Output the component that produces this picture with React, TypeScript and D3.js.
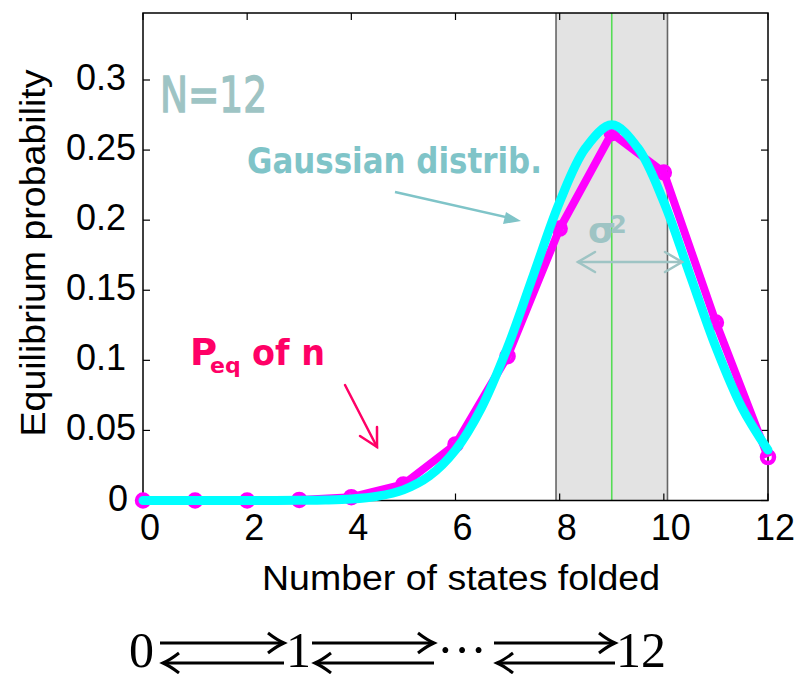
import React from "react";
import * as d3 from "d3";

const nStates = [0, 1, 2, 3, 4, 5, 6, 7, 8, 9, 10, 11, 12];
const peqValues = [0, 0, 0, 0.0004, 0.0024, 0.0115, 0.04, 0.103, 0.194, 0.262, 0.234, 0.127, 0.031];
const gaussX = [0, 0.5, 1, 1.5, 2, 2.5, 3, 3.5, 4, 4.5, 5, 5.5, 6, 6.5, 7, 7.5, 8, 8.5, 9, 9.5, 10, 10.5, 11, 11.5, 12];
const gaussY = [0, 0, 0, 0, 0, 0, 0.0001, 0.0003, 0.001, 0.003, 0.0076, 0.0175, 0.036, 0.0663, 0.1094, 0.1613, 0.213, 0.2516, 0.268, 0.2516, 0.213, 0.1613, 0.1094, 0.0663, 0.036];
const xTicks = [0, 2, 4, 6, 8, 10, 12];
const yTicks = [0, 0.05, 0.1, 0.15, 0.2, 0.25, 0.3];
const yTickLabels = ["0", "0.05", "0.1", "0.15", "0.2", "0.25", "0.3"];
const sigmaBand = [7.93, 10.07];
const meanN = 9;

const AXIS_FONT = "'Liberation Sans', Arial, sans-serif";
const HAND_FONT = "'Comic Sans MS', 'DejaVu Sans', sans-serif";
const SERIF = "'Liberation Serif', 'Times New Roman', serif";

export default function App() {
  const x = d3.scaleLinear().domain([0, 12]).range([143, 768]);
  const y = d3.scaleLinear().domain([0, 0.3]).range([500.5, 80]);
  const top = 13;
  const left = x(0), right = x(12), bottom = y(0);

  const peqLine = d3.line<number>().x((_, i) => x(nStates[i])).y((d) => y(d));
  const gaussLine = d3
    .line<number>()
    .x((_, i) => x(gaussX[i]))
    .y((d) => y(d))
    .curve(d3.curveCatmullRom);

  const tickLen = 7;

  // scheme arrows (reversible reaction)
  const pairArrow = (x1: number, x2: number, key: string) => {
    const yt = 643, yb = 663;
    return (
      <g key={key} stroke="#000" strokeWidth={3} fill="none">
        <line x1={x1} y1={yt} x2={x2 - 1} y2={yt} />
        <path d={`M${x2 - 16},${yt - 10} Q${x2 - 7},${yt - 3} ${x2},${yt} Q${x2 - 7},${yt + 3} ${x2 - 16},${yt + 10}`} />
        <line x1={x1 + 4} y1={yb} x2={x2} y2={yb} />
        <path d={`M${x1 + 19},${yb - 10} Q${x1 + 10},${yb - 3} ${x1 + 3},${yb} Q${x1 + 10},${yb + 3} ${x1 + 19},${yb + 10}`} />
      </g>
    );
  };

  return (
    <svg width={801} height={674} style={{ position: "absolute", left: 0, top: 0, background: "#fff" }}>
      <rect x={0} y={0} width={801} height={674} fill="#fff" />
      {/* sigma band */}
      <rect x={x(sigmaBand[0])} y={top} width={x(sigmaBand[1]) - x(sigmaBand[0])} height={bottom - top} fill="#e3e3e3" />
      {sigmaBand.map((v) => (
        <line key={v} x1={x(v)} x2={x(v)} y1={top} y2={bottom} stroke="#666" strokeWidth={1.6} />
      ))}
      <line x1={x(meanN)} x2={x(meanN)} y1={top} y2={bottom} stroke="#55dd55" strokeWidth={1.6} />

      {/* frame */}
      <rect x={left} y={top} width={right - left} height={bottom - top} fill="none" stroke="#000" strokeWidth={1.5} />
      {xTicks.map((t) => (
        <g key={"xt" + t}>
          <line x1={x(t)} x2={x(t)} y1={bottom} y2={bottom - tickLen} stroke="#000" strokeWidth={1.2} />
          <line x1={x(t)} x2={x(t)} y1={top} y2={top + tickLen} stroke="#000" strokeWidth={1.2} />
          <text x={x(t) + 7} y={540} textAnchor="middle" fontFamily={AXIS_FONT} fontSize={36} fill="#000">
            {t}
          </text>
        </g>
      ))}
      {yTicks.map((t, i) => (
        <g key={"yt" + t}>
          <line x1={left} x2={left + tickLen} y1={y(t)} y2={y(t)} stroke="#000" strokeWidth={1.2} />
          <line x1={right} x2={right - tickLen} y1={y(t)} y2={y(t)} stroke="#000" strokeWidth={1.2} />
          <text
            x={t === 0 ? 128 : 101}
            y={y(t) + 10}
            textAnchor={t === 0 ? "end" : "middle"}
            fontFamily={AXIS_FONT}
            fontSize={36}
            fill="#000"
          >
            {yTickLabels[i]}
          </text>
        </g>
      ))}
      <text x={461} y={590} textAnchor="middle" fontFamily={AXIS_FONT} fontSize={35} fill="#000" textLength={398} lengthAdjust="spacingAndGlyphs">
        Number of states folded
      </text>
      <text
        transform="translate(45,253) rotate(-90)"
        textAnchor="middle"
        fontFamily={AXIS_FONT}
        fontSize={35}
        fill="#000"
        textLength={367}
        lengthAdjust="spacingAndGlyphs"
      >
        Equilibrium probability
      </text>

      {/* data */}
      <path d={peqLine(peqValues) || ""} fill="none" stroke="#ff00ff" strokeWidth={8} strokeLinejoin="round" />
      {peqValues.map((v, i) => (
        <circle key={"p" + i} cx={x(nStates[i])} cy={y(v)} r={6} fill="none" stroke="#ff00ff" strokeWidth={4.5} />
      ))}
      <path d={gaussLine(gaussY) || ""} fill="none" stroke="#00ffff" strokeWidth={9} strokeLinejoin="round" strokeLinecap="round" />

      {/* annotations */}
      <text x={160} y={112} fontFamily={HAND_FONT} fontSize={50} fill="#9ec4c4" stroke="#9ec4c4" strokeWidth={1.5} textLength={107} lengthAdjust="spacingAndGlyphs">
        N=12
      </text>
      <text x={247} y={173} fontFamily={HAND_FONT} fontWeight="bold" fontSize={36} fill="#7fc4c8" textLength={295} lengthAdjust="spacingAndGlyphs">
        Gaussian distrib.
      </text>
      <line x1={395} y1={192} x2={514} y2={219} stroke="#7fc4c8" strokeWidth={2.5} />
      <path d="M521,221 L506,212 L503,224 Z" fill="#7fc4c8" />

      <g fontFamily={HAND_FONT} fontWeight="bold" fill="#ff0066">
        <text x={190} y={365} fontSize={37}>P</text>
        <text x={210} y={373} fontSize={22}>eq</text>
        <text x={252} y={365} fontSize={36} textLength={73} lengthAdjust="spacingAndGlyphs">of n</text>
      </g>
      <g stroke="#ff0066" strokeWidth={2.5} fill="none" strokeLinecap="round">
        <line x1={345} y1={385} x2={377} y2={447} />
        <path d="M360,436 L377,447 L377,427" />
      </g>

      {/* sigma^2 */}
      <g fill="#9ec4c4" fontFamily={HAND_FONT} fontWeight="bold">
        <text x={588} y={243} fontSize={36}>σ</text>
        <text x={610} y={233} fontSize={24}>2</text>
      </g>
      <g stroke="#9ec4c4" strokeWidth={2.5} fill="none" strokeLinecap="round">
        <line x1={578} y1={262} x2={682} y2={262} />
        <path d="M595,252 L578,262 L595,272" />
        <path d="M665,252 L682,262 L665,272" />
      </g>

      {/* kinetic scheme */}
      <g fontFamily={SERIF} fontSize={50} fill="#000">
        <text x={129} y={667}>0</text>
        <text x={286} y={667}>1</text>
        <text x={437} y={667}>···</text>
        <text x={616} y={667}>12</text>
      </g>
      {pairArrow(160, 284, "a1")}
      {pairArrow(312, 434, "a2")}
      {pairArrow(494, 615, "a3")}
    </svg>
  );
}
